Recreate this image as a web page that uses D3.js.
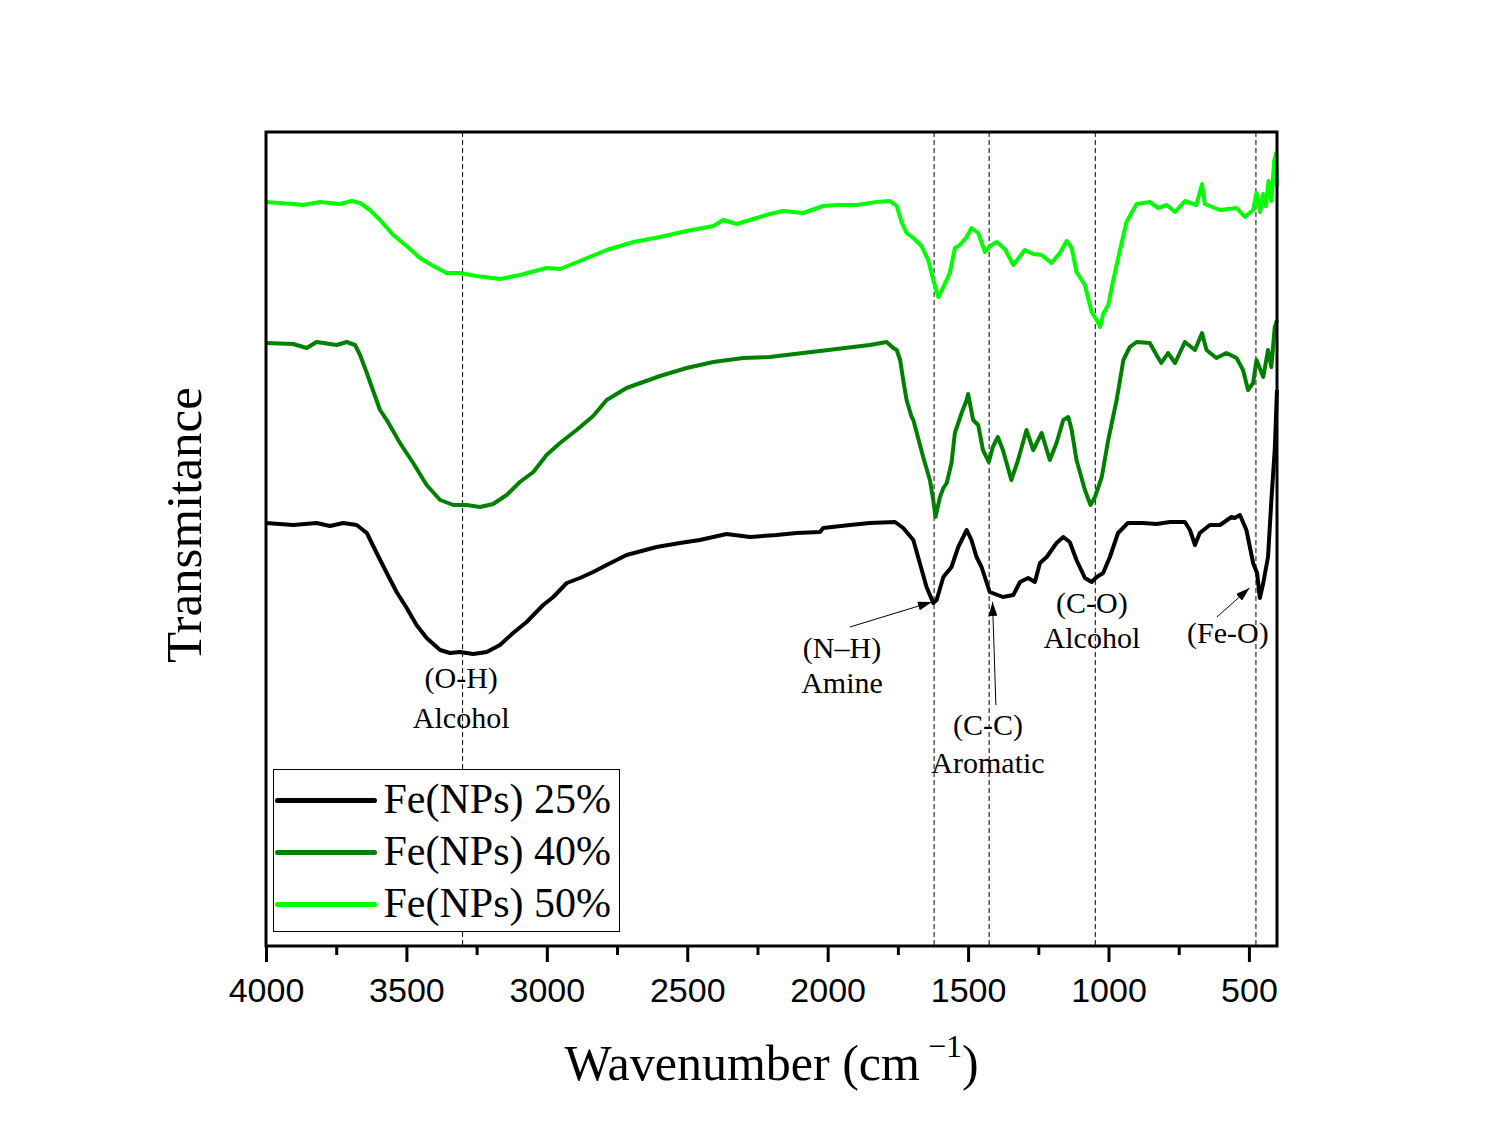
<!DOCTYPE html>
<html>
<head>
<meta charset="utf-8">
<script src="https://cdn.jsdelivr.net/npm/d3@7"></script>
<style>
  body { margin: 0; background: #fff; }
</style>
</head>
<body>
<div id="chart"></div>
<script>
//Spectra: [wavenumber (cm-1), transmittance (a.u., stacked)]
const fe25 = [
  [4000, 423], [3903, 421], [3820, 423], [3772, 420], [3725, 423], [3677, 421], [3641, 413], [3606, 393],
  [3570, 373], [3535, 354], [3499, 338], [3464, 321], [3428, 308], [3380, 296], [3345, 293], [3309, 294],
  [3262, 292], [3214, 294], [3167, 301], [3120, 313], [3072, 324], [3013, 341], [2977, 349], [2929, 363],
  [2882, 368], [2835, 374], [2787, 381], [2716, 391], [2609, 399], [2526, 403], [2455, 406], [2360, 412],
  [2277, 409], [2182, 411], [2111, 413], [2027, 414], [2016, 418], [1921, 421], [1850, 423], [1760, 424],
  [1731, 418], [1695, 406], [1672, 383], [1648, 359], [1624, 343], [1612, 346], [1588, 369], [1559, 379],
  [1535, 399], [1505, 416], [1488, 406], [1470, 389], [1452, 379], [1423, 354], [1376, 349], [1339, 351],
  [1315, 364], [1286, 368], [1262, 364], [1244, 383], [1220, 389], [1185, 403], [1161, 409], [1138, 404],
  [1114, 386], [1084, 368], [1060, 364], [1042, 369], [1019, 373], [995, 389], [966, 413], [931, 423],
  [877, 423], [829, 422], [781, 424], [728, 424], [710, 416], [692, 401], [675, 413], [639, 421],
  [603, 421], [562, 429], [550, 428], [532, 431], [509, 416], [485, 383], [471, 373], [461, 348],
  [449, 363], [432, 389], [420, 446], [408, 496], [400, 556]
]
const fe40 = [
  [4000, 603], [3903, 602], [3855, 598], [3820, 604], [3748, 601], [3713, 604], [3683, 601], [3665, 591],
  [3641, 573], [3617, 554], [3594, 536], [3570, 526], [3523, 503], [3476, 483], [3428, 461], [3380, 446],
  [3333, 441], [3285, 441], [3238, 439], [3191, 442], [3143, 451], [3096, 464], [3048, 474], [3001, 491],
  [2953, 503], [2894, 516], [2835, 530], [2787, 546], [2716, 558], [2597, 570], [2502, 578], [2407, 584],
  [2301, 588], [2206, 589], [2088, 593], [1968, 597], [1850, 601], [1790, 604], [1766, 598], [1754, 596],
  [1742, 586], [1731, 566], [1719, 546], [1701, 529], [1695, 526], [1660, 489], [1636, 466], [1624, 446],
  [1616, 429], [1600, 449], [1588, 458], [1576, 463], [1559, 483], [1547, 513], [1523, 533], [1505, 546],
  [1500, 552], [1482, 526], [1464, 521], [1447, 496], [1426, 484], [1412, 499], [1394, 509], [1376, 496],
  [1346, 466], [1322, 486], [1292, 516], [1268, 496], [1238, 513], [1209, 486], [1185, 503], [1161, 526],
  [1143, 529], [1131, 516], [1114, 486], [1084, 456], [1064, 441], [1048, 449], [1024, 469], [1001, 506],
  [983, 530], [971, 546], [947, 586], [924, 599], [900, 604], [853, 603], [829, 591], [812, 583],
  [788, 593], [763, 583], [728, 604], [692, 596], [667, 613], [651, 596], [616, 588], [580, 593],
  [544, 588], [521, 576], [503, 556], [485, 563], [473, 586], [449, 569], [432, 596], [420, 579],
  [408, 619], [400, 626]
]
const fe50 = [
  [4000, 744], [3903, 742], [3868, 741], [3808, 744], [3737, 742], [3695, 745], [3665, 743], [3630, 736],
  [3594, 726], [3547, 711], [3499, 700], [3452, 688], [3404, 680], [3357, 673], [3309, 673], [3250, 670],
  [3167, 667], [3096, 671], [3001, 678], [2953, 677], [2882, 685], [2787, 696], [2692, 704], [2597, 709],
  [2502, 715], [2407, 720], [2372, 726], [2324, 722], [2265, 727], [2206, 732], [2158, 735], [2087, 733],
  [2016, 740], [1968, 741], [1897, 741], [1826, 744], [1778, 745], [1754, 740], [1737, 724], [1719, 713],
  [1695, 708], [1666, 700], [1642, 686], [1624, 666], [1606, 649], [1588, 659], [1565, 673], [1547, 698],
  [1529, 701], [1505, 709], [1488, 718], [1464, 713], [1440, 694], [1422, 700], [1398, 704], [1369, 697],
  [1339, 681], [1298, 696], [1268, 692], [1238, 691], [1203, 683], [1173, 693], [1149, 705], [1131, 698],
  [1114, 674], [1084, 661], [1060, 634], [1042, 626], [1030, 619], [1019, 632], [1001, 641], [983, 666],
  [959, 696], [936, 724], [900, 742], [853, 744], [823, 738], [793, 741], [763, 734], [728, 745],
  [687, 741], [667, 762], [657, 742], [603, 736], [544, 738], [514, 729], [485, 736], [473, 753],
  [460, 734], [450, 752], [440, 740], [430, 765], [420, 745], [410, 785], [403, 793], [400, 760]
]
const seriesNames = ['Fe(NPs) 25%', 'Fe(NPs) 40%', 'Fe(NPs) 50%']
const seriesColors = ['#000000', '#008000', '#00ff00']
const xTicks = [4000, 3500, 3000, 2500, 2000, 1500, 1000, 500]
const xMinorTicks = [3750, 3250, 2750, 2250, 1750, 1250, 750]
const peakLines = [3300, 1621, 1425, 1047, 475]
const peakLabels = [['(O-H)', 'Alcohol'], ['(N–H)', 'Amine'], ['(C-C)', 'Aromatic'], ['(C-O)', 'Alcohol'], ['(Fe-O)']]

//Layout
const width = 1488
const height = 1138
const plot = { left: 266, right: 1277, top: 132, bottom: 946 }
const serif = '"Liberation Serif", "Times New Roman", serif'
const sans = '"Liberation Sans", Arial, sans-serif'

//Label anchors [wavenumber, value per text line] and arrows [from, to]
const labelPos = [
  { wn: 3305, ys: [258, 218] },
  { wn: 1949, ys: [288, 253], arrow: [[1921, 319], [1629, 344]] },
  { wn: 1429, ys: [211, 173], arrow: [[1401, 241], [1413, 344]] },
  { wn: 1059, ys: [333, 298] },
  { wn: 575, ys: [303], arrow: [[614, 329], [498, 358]] }
]

const svg = d3.select('#chart')
  .append('svg')
  .attr('width', width)
  .attr('height', height)
  .style('background', '#fff')

const xScale = d3.scaleLinear()
  .domain([4000, 400])
  .range([plot.left, plot.right])
const yScale = d3.scaleLinear()
  .domain([0, 814])
  .range([plot.bottom, plot.top])

//Arrow head
svg.append('defs')
  .append('marker')
  .attr('id', 'head')
  .attr('viewBox', '0 0 14 9')
  .attr('refX', 14)
  .attr('refY', 4.5)
  .attr('markerWidth', 14)
  .attr('markerHeight', 9)
  .attr('markerUnits', 'userSpaceOnUse')
  .attr('orient', 'auto')
  .append('path')
  .attr('d', 'M0,0 L14,4.5 L0,9 Z')
  .attr('fill', '#000')

//Dashed peak guides
svg.append('g')
  .selectAll('line')
  .data(peakLines)
  .enter()
  .append('line')
  .attr('x1', d => xScale(d))
  .attr('x2', d => xScale(d))
  .attr('y1', plot.top)
  .attr('y2', plot.bottom)
  .attr('stroke', '#000')
  .attr('stroke-width', 1)
  .attr('stroke-dasharray', '5,3')

//Spectra
const line = d3.line()
  .x(d => xScale(d[0]))
  .y(d => yScale(d[1]))

svg.append('g')
  .selectAll('path')
  .data([fe25, fe40, fe50])
  .enter()
  .append('path')
  .attr('d', line)
  .attr('fill', 'none')
  .attr('stroke', (d, i) => seriesColors[i])
  .attr('stroke-width', 4)
  .attr('stroke-linejoin', 'round')

//Frame
svg.append('rect')
  .attr('x', plot.left)
  .attr('y', plot.top)
  .attr('width', plot.right - plot.left)
  .attr('height', plot.bottom - plot.top)
  .attr('fill', 'none')
  .attr('stroke', '#000')
  .attr('stroke-width', 3)

//X axis
const axisX = d3.axisBottom(xScale)
  .tickValues(xTicks)
  .tickSize(16)
  .tickPadding(16)
  .tickFormat(d3.format('d'))

const gx = svg.append('g')
  .attr('transform', `translate(0, ${plot.bottom})`)
  .call(axisX)
gx.select('.domain').remove()
gx.selectAll('line').attr('stroke-width', 3)
gx.selectAll('text')
  .attr('font-family', sans)
  .attr('font-size', 34)
  .attr('fill', '#000')

const gxMinor = svg.append('g')
  .attr('transform', `translate(0, ${plot.bottom})`)
  .call(d3.axisBottom(xScale).tickValues(xMinorTicks).tickSize(9).tickFormat(''))
gxMinor.select('.domain').remove()
gxMinor.selectAll('line').attr('stroke-width', 3)

//Axis titles
const xTitle = svg.append('text')
  .attr('x', (plot.left + plot.right) / 2)
  .attr('y', 1080)
  .attr('text-anchor', 'middle')
  .attr('font-family', serif)
  .attr('font-size', 50)
xTitle.append('tspan').text('Wavenumber (cm')
xTitle.append('tspan')
  .attr('dy', -23)
  .attr('font-size', 32)
  .text(' −1')
xTitle.append('tspan')
  .attr('dy', 23)
  .text(')')

svg.append('text')
  .attr('transform', `translate(201, 525) rotate(-90)`)
  .attr('text-anchor', 'middle')
  .attr('font-family', serif)
  .attr('font-size', 51)
  .text('Transmitance')

//Peak annotations
labelPos.forEach((p, i) => {
  peakLabels[i].forEach((t, j) => {
    svg.append('text')
      .attr('x', xScale(p.wn))
      .attr('y', yScale(p.ys[j]))
      .attr('text-anchor', 'middle')
      .attr('font-family', serif)
      .attr('font-size', 30)
      .text(t)
  })
  if (p.arrow) {
    svg.append('line')
      .attr('x1', xScale(p.arrow[0][0]))
      .attr('y1', yScale(p.arrow[0][1]))
      .attr('x2', xScale(p.arrow[1][0]))
      .attr('y2', yScale(p.arrow[1][1]))
      .attr('stroke', '#000')
      .attr('stroke-width', 1)
      .attr('marker-end', 'url(#head)')
  }
})

//Legend
const legend = svg.append('g')
  .attr('transform', 'translate(273.5, 769.5)')
legend.append('rect')
  .attr('width', 346)
  .attr('height', 162)
  .attr('fill', '#fff')
  .attr('stroke', '#000')
  .attr('stroke-width', 1)

const items = legend.selectAll('.item')
  .data(seriesNames)
  .enter()
  .append('g')
  .attr('transform', (d, i) => `translate(0, ${31 + i * 52})`)
items.append('line')
  .attr('x1', 4)
  .attr('x2', 101)
  .attr('stroke', (d, i) => seriesColors[i])
  .attr('stroke-width', 5)
  .attr('stroke-linecap', 'round')
items.append('text')
  .attr('x', 110)
  .attr('y', 12)
  .attr('font-family', serif)
  .attr('font-size', 42)
  .text(d => d)
</script>
</body>
</html>
